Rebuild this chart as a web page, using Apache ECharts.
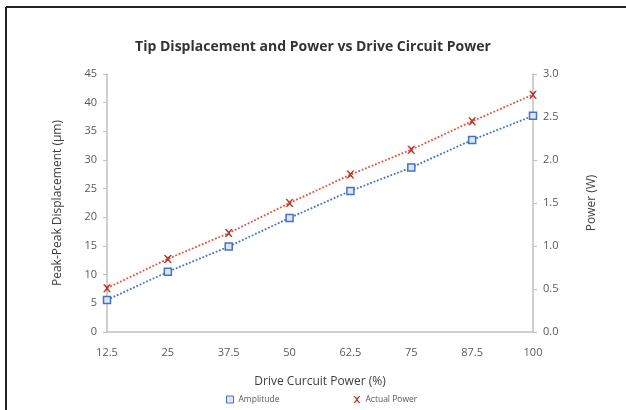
<!DOCTYPE html>
<html><head><meta charset="utf-8">
<script src="https://cdn.jsdelivr.net/npm/echarts@6/dist/echarts.min.js"></script>
<style>html,body{margin:0;padding:0;background:#fff}#c{width:626px;height:410px}</style>
</head><body><div id="c"></div>
<script>
const categories = ['12.5','25','37.5','50','62.5','75','87.5','100'];
const amplitude = [5.6, 10.5, 14.9, 19.9, 24.6, 28.7, 33.5, 37.7];
const actualPower = [0.51, 0.85, 1.15, 1.50, 1.83, 2.12, 2.45, 2.76];

const X_PATH = 'path://M0,0 L2,0 L5,3 L8,0 L10,0 L6,5 L10,10 L8,10 L5,7 L2,10 L0,10 L4,5 Z';
const FONT = '"Open Sans", Lato, sans-serif';
const chart = echarts.init(document.getElementById('c'), null, {renderer:'canvas'});
chart.setOption({
  animation:false,
  backgroundColor:'#fff',
  title:{text:'Tip Displacement and Power vs Drive Circuit Power', left:'center', top:35,
    textStyle:{fontFamily:FONT, fontSize:14, fontWeight:'bold', color:'#333'}},
  grid:{left:107, right:93, top:74, bottom:78},
  legend:{bottom:1, left:221, itemGap:74, itemWidth:7, itemHeight:7,
    textStyle:{fontFamily:FONT, fontSize:8.5, color:'#595959'},
    data:[{name:'Amplitude', icon:'rect', itemStyle:{color:'#dfe7f5', borderColor:'#4472C4', borderWidth:1}},
          {name:'Actual Power', icon:X_PATH, itemStyle:{color:'#C0392B'}}]},
  xAxis:{type:'category', data:categories, boundaryGap:false,
    name:'Drive Curcuit Power (%)', nameLocation:'middle', nameGap:44,
    nameTextStyle:{fontFamily:FONT, fontSize:12, color:'#404040'},
    axisLine:{lineStyle:{color:'#BFBFBF', width:1.5}},
    axisTick:{show:false},
    axisLabel:{fontFamily:FONT, fontSize:11, color:'#595959', margin:15}},
  yAxis:[
    {type:'value', min:0, max:45, interval:5,
     name:'Peak-Peak Displacement (µm)', nameLocation:'middle', nameGap:43, nameRotate:90,
     nameTextStyle:{fontFamily:FONT, fontSize:12, color:'#404040'},
     axisLine:{show:true, lineStyle:{color:'#BFBFBF', width:1.5}},
     axisTick:{show:true, length:4, lineStyle:{color:'#BFBFBF'}},
     splitLine:{show:false},
     axisLabel:{fontFamily:FONT, fontSize:11, color:'#595959', margin:10}},
    {type:'value', min:0, max:3, interval:0.5, position:'right',
     name:'Power (W)', nameLocation:'middle', nameGap:53, nameRotate:90,
     nameTextStyle:{fontFamily:FONT, fontSize:12, color:'#404040'},
     axisLine:{show:true, lineStyle:{color:'#BFBFBF', width:1.5}},
     axisTick:{show:true, length:4, lineStyle:{color:'#BFBFBF'}},
     splitLine:{show:false},
     axisLabel:{fontFamily:FONT, fontSize:11, color:'#595959', margin:10,
       formatter:v=>v.toFixed(1)}}
  ],
  series:[
    {name:'Amplitude', type:'line', yAxisIndex:0, data:amplitude,
     symbol:'rect', symbolSize:7,
     lineStyle:{color:'#4472C4', width:1.8, type:'dotted'},
     itemStyle:{color:'#dfe7f5', borderColor:'#4472C4', borderWidth:1.5}},
    {name:'Actual Power', type:'line', yAxisIndex:1, data:actualPower,
     symbol:X_PATH, symbolSize:8,
     lineStyle:{color:'#E0533B', width:1.8, type:'dotted'},
     itemStyle:{color:'#B8322A', borderWidth:0}}
  ],
  graphic:[
    {type:'line', shape:{x1:6, y1:7, x2:626, y2:7}, style:{stroke:'#222', lineWidth:2}},
    {type:'line', shape:{x1:6, y1:7, x2:6, y2:410}, style:{stroke:'#222', lineWidth:2}}
  ]
});
</script></body></html>
